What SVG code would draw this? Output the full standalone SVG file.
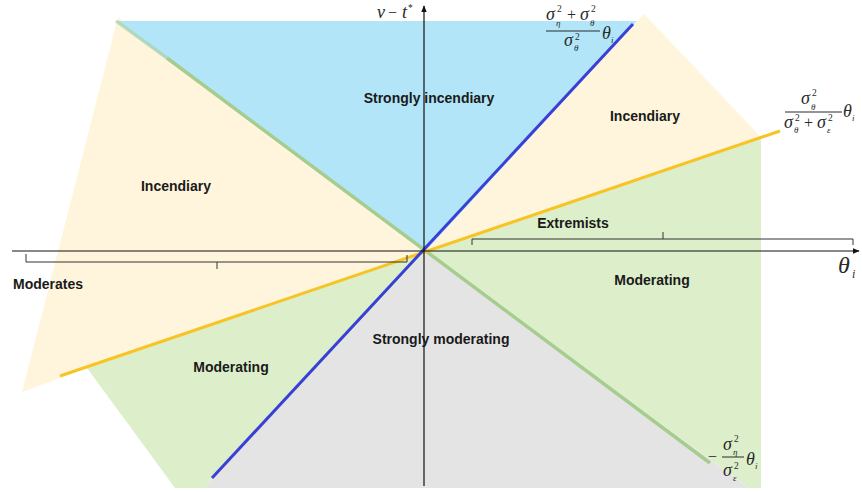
<svg xmlns="http://www.w3.org/2000/svg" width="862" height="492" viewBox="0 0 862 492">
<style>
.lbl{font-family:"Liberation Sans",Arial,sans-serif;font-weight:bold;font-size:14px;fill:#1a1a1a;text-anchor:middle}
.m{font-family:"Liberation Serif","Times New Roman",serif;font-style:italic;font-size:18px;fill:#2a2a2a}
.s{font-family:"Liberation Serif","Times New Roman",serif;font-size:9.5px;fill:#2a2a2a}
.si{font-family:"Liberation Serif","Times New Roman",serif;font-style:italic;font-size:9px;fill:#2a2a2a}
.op{font-family:"Liberation Serif","Times New Roman",serif;font-size:16px;fill:#2a2a2a}
.bar{stroke:#2a2a2a;stroke-width:1}
.brace{fill:none;stroke:#333;stroke-width:1}
.axis{stroke:#111;stroke-width:1.2;fill:none}
</style>
<defs>
<marker id="arr" viewBox="0 0 10 10" refX="9" refY="5" markerWidth="7" markerHeight="7" orient="auto" markerUnits="userSpaceOnUse">
<path d="M0,1 L10,5 L0,9 z" fill="#111"/>
</marker>
</defs>
<rect width="862" height="492" fill="#fff"/>
<g id="regions">
<polygon id="strongly-moderating" points="425,252 749,488 204,488" fill="#e4e4e4"/>
<polygon id="moderating-left" points="425,252 87,368 175,488 204,488" fill="#ddefca"/>
<polygon id="moderating-right" points="425,252 761,137 761,488 749,488" fill="#ddefca"/>
<polygon id="incendiary-left" points="118,17 425,252 87,368 22,392" fill="#fff5dc"/>
<polygon id="strongly-incendiary" points="115,21 637,21 425,252" fill="#b2e5f8"/>
<polygon id="incendiary-right" points="425,252 644,14 761,137" fill="#fff5dc"/>
</g>
<g id="connectors">
<line x1="116" y1="21" x2="167" y2="58" stroke="#a6cc8e" stroke-width="3.5" stroke-opacity="0.5"/>
<line x1="167" y1="58" x2="710" y2="463" stroke="#a6cc8e" stroke-width="3.5"/>
<line x1="60" y1="376" x2="780" y2="131" stroke="#f7c325" stroke-width="3"/>
<line x1="212" y1="478" x2="633" y2="24" stroke="#3a3fd6" stroke-width="3"/>
<line class="axis" x1="424" y1="486" x2="424" y2="6" marker-end="url(#arr)"/>
<line class="axis" x1="12" y1="251" x2="859" y2="251" marker-end="url(#arr)"/>
<path class="brace" d="M26,254 V262 H407 V255 M217,262 V269"/>
<path class="brace" d="M472,245 V239 H853 V245 M663,239 V232"/>
</g>
<g id="labels">
<text class="lbl" x="429" y="103">Strongly incendiary</text>
<text class="lbl" x="645" y="121">Incendiary</text>
<text class="lbl" x="176" y="191">Incendiary</text>
<text class="lbl" x="573" y="228">Extremists</text>
<text class="lbl" x="48" y="289">Moderates</text>
<text class="lbl" x="652" y="285">Moderating</text>
<text class="lbl" x="441" y="344">Strongly moderating</text>
<text class="lbl" x="231" y="372">Moderating</text>
</g>
<g id="axis-labels">
<text class="m" x="377" y="18">v</text>
<text class="op" x="388" y="18">−</text>
<text class="m" x="402" y="18">t</text>
<text class="s" x="408" y="11">*</text>
<text class="m" x="838" y="273" style="font-size:24px">θ</text>
<text class="si" x="852" y="278" style="font-size:12px">i</text>
</g>
<g id="formula-top">
<text class="m" x="546" y="20">σ</text><text class="s" x="557" y="12">2</text><text class="si" x="556" y="26">η</text>
<text class="op" x="567" y="20">+</text>
<text class="m" x="580" y="20">σ</text><text class="s" x="591" y="12">2</text><text class="si" x="590" y="26">θ</text>
<line class="bar" x1="546" y1="31" x2="600" y2="31"/>
<text class="m" x="564" y="46">σ</text><text class="s" x="575" y="40">2</text><text class="si" x="574" y="51">θ</text>
<text class="m" x="602" y="39">θ</text><text class="si" x="611" y="43">i</text>
</g>
<g id="formula-right">
<text class="m" x="801" y="104">σ</text><text class="s" x="812" y="96">2</text><text class="si" x="811" y="110">θ</text>
<line class="bar" x1="785" y1="112" x2="842" y2="112"/>
<text class="m" x="784" y="128">σ</text><text class="s" x="795" y="121">2</text><text class="si" x="794" y="133">θ</text>
<text class="op" x="804" y="128">+</text>
<text class="m" x="817" y="128">σ</text><text class="s" x="828" y="121">2</text><text class="si" x="827" y="133">ε</text>
<text class="m" x="843" y="117">θ</text><text class="si" x="852" y="121">i</text>
</g>
<g id="formula-bottom">
<text class="op" x="708" y="462">−</text>
<text class="m" x="723" y="450">σ</text><text class="s" x="734" y="442">2</text><text class="si" x="733" y="455">η</text>
<line class="bar" x1="722" y1="457" x2="744" y2="457"/>
<text class="m" x="723" y="476">σ</text><text class="s" x="734" y="469">2</text><text class="si" x="733" y="481">ε</text>
<text class="m" x="746" y="465">θ</text><text class="si" x="755" y="469">i</text>
</g>
</svg>
